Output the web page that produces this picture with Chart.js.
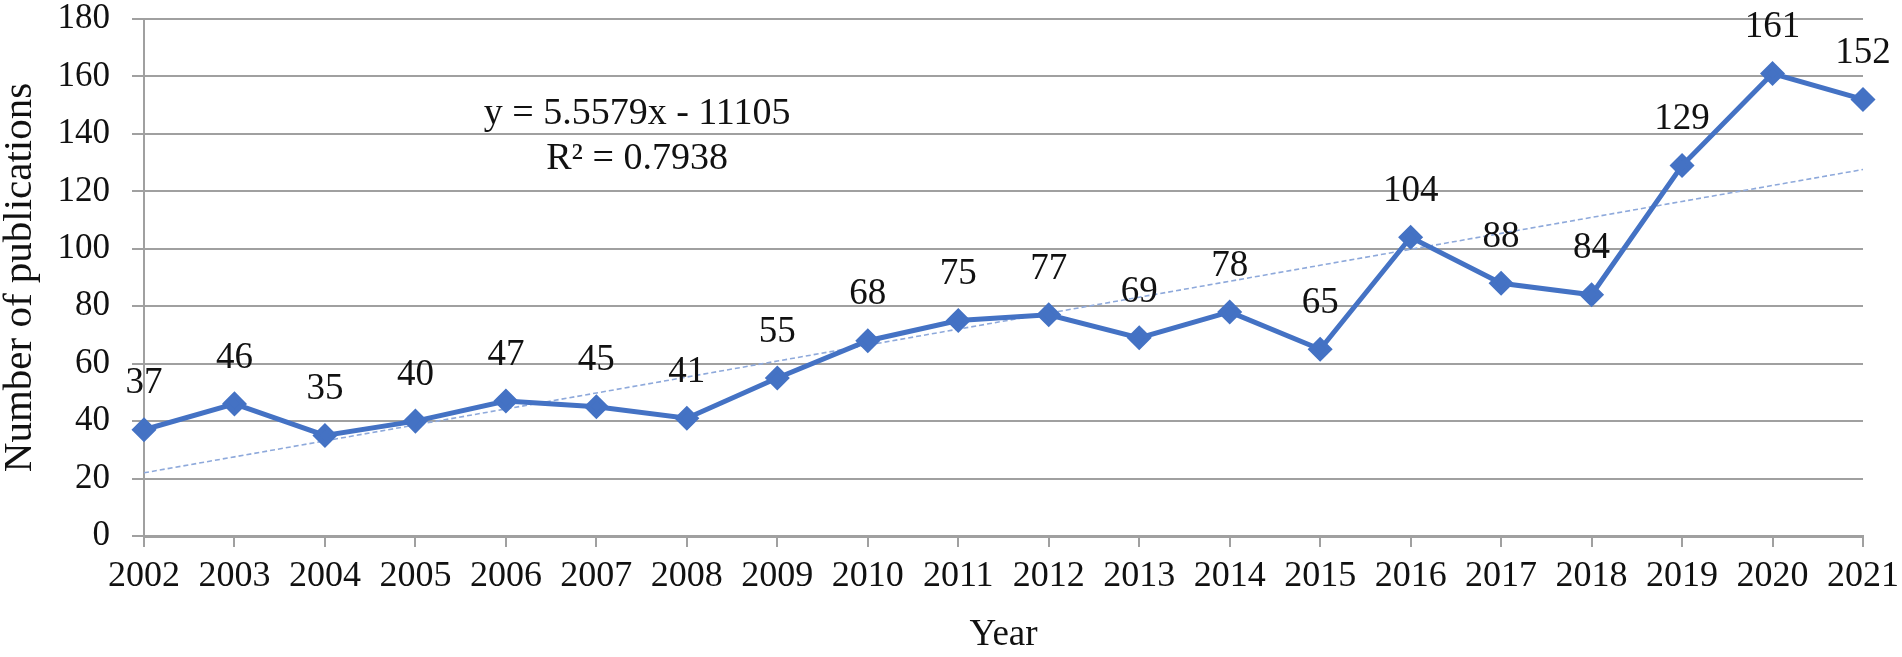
<!DOCTYPE html>
<html>
<head>
<meta charset="utf-8">
<script src="https://cdn.jsdelivr.net/npm/chart.js@4.4.1/dist/chart.umd.min.js"></script>
<style>
  html, body { margin:0; padding:0; background:#fff; }
  #wrap { width:1902px; height:657px; position:relative; }
</style>
</head>
<body>
<div id="wrap"><canvas id="grafico"></canvas></div>
<script>
// --- Dados ---
const anos = ["2002","2003","2004","2005","2006","2007","2008","2009","2010","2011",
              "2012","2013","2014","2015","2016","2017","2018","2019","2020","2021"];
const publicacoes = [37,46,35,40,47,45,41,55,68,75,77,69,78,65,104,88,84,129,161,152];
const ticksY = [0,20,40,60,80,100,120,140,160,180];
const equacao = ["y = 5.5579x - 11105", "R\u00B2 = 0.7938"];

const FONTE = "'Liberation Serif', 'Times New Roman', serif";
const AZUL = "#4472C4";
const CINZA = "#A0A0A0";

// linha de tendência (mínimos quadrados sobre os dados)
function tendencia(valores){
    const n = valores.length;
    let sx=0, sy=0, sxy=0, sxx=0;
    valores.forEach((v,i)=>{ sx+=i; sy+=v; sxy+=i*v; sxx+=i*i; });
    const a = (n*sxy - sx*sy)/(n*sxx - sx*sx);
    const b = (sy - a*sx)/n;
    return valores.map((v,i)=> a*i + b);
}

// --- Plugin de rótulos ---
const rotulos = {
    id:'rotulos',
    afterDatasetsDraw(chart){
        const ctx = chart.ctx;
        const meta = chart.getDatasetMeta(1);
        ctx.save();
        ctx.fillStyle = "#111";
        ctx.font = "37px " + FONTE;
        ctx.textAlign = "center";
        ctx.textBaseline = "middle";
        meta.data.forEach((p,i)=>{
            ctx.fillText(String(publicacoes[i]), p.x, p.y - 46);
        });
        // equação da tendência
        const x = chart.scales.x.getPixelForValue(5.45);
        ctx.font = "38px " + FONTE;
        ctx.fillText(equacao[0], x, 114);
        ctx.fillText(equacao[1], x, 159);
        ctx.restore();
    }
};

window.onload = function(){
    const ctx = document.getElementById("grafico");
    new Chart(ctx,{
        type:'line',
        data:{
            labels: anos,
            datasets:[{
                label:'Tendência',
                data: tendencia(publicacoes),
                borderColor:'#8EA9DB',
                borderWidth:1.6,
                borderDash:[5,3],
                pointRadius:0,
                fill:false,
                order:2
            },{
                label:'Publicações',
                data: publicacoes,
                borderColor: AZUL,
                backgroundColor: AZUL,
                borderWidth:5,
                pointStyle:'rectRot',
                pointRadius:9,
                pointHoverRadius:9,
                tension:0,
                fill:false,
                order:1
            }]
        },
        options:{
            responsive:true,
            maintainAspectRatio:false,
            animation:false,
            layout:{ padding:{ top:19, right:39, left:0, bottom:0 } },
            plugins:{ legend:{ display:false }, tooltip:{ enabled:false } },
            scales:{
                x:{
                    offset:false,
                    grid:{ drawOnChartArea:false, drawTicks:true, tickLength:11, color:CINZA, lineWidth:2 },
                    border:{ color:CINZA, width:3 },
                    ticks:{ color:'#111', font:{ family:FONTE, size:36 }, padding:8, maxRotation:0, autoSkip:false },
                    title:{ display:true, text:'Year', color:'#111', font:{ family:FONTE, size:37 }, padding:{ top:0, bottom:0 } },
                    afterFit(s){ s.height = 121; s.paddingLeft = 0; s.paddingRight = 0; }
                },
                y:{
                    min:0, max:180,
                    afterBuildTicks(s){ s.ticks = ticksY.map(v=>({value:v})); },
                    grid:{ color:CINZA, lineWidth:2, tickLength:12 },
                    border:{ color:CINZA, width:2 },
                    ticks:{ color:'#111', font:{ family:FONTE, size:35 }, padding:22 },
                    title:{ display:true, text:'Number of publications', color:'#111', font:{ family:FONTE, size:41, lineHeight:1.0 }, padding:{ top:0, bottom:0 } },
                    afterFit(s){ s.width = 144; s.paddingTop = 0; s.paddingBottom = 0; }
                }
            }
        },
        plugins:[rotulos]
    });
};
</script>
</body>
</html>
